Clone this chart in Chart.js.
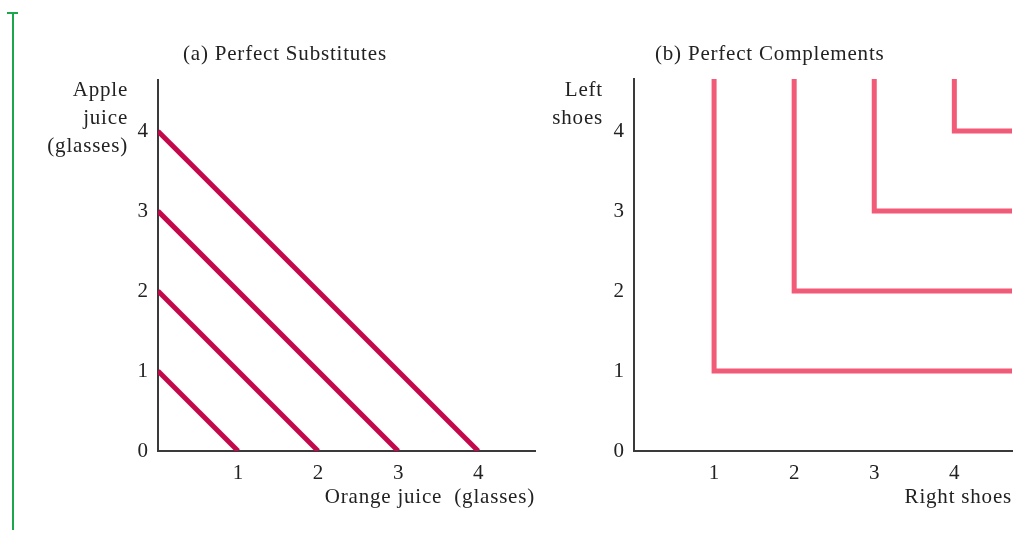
<!DOCTYPE html>
<html>
<head>
<meta charset="utf-8">
<script src="https://cdn.jsdelivr.net/npm/chart.js@4"></script>
<style>
    body { margin: 0; background: #fff; }
    #wrap { position: relative; width: 1028px; height: 534px; overflow: hidden; }
    .panel { position: absolute; top: 0; }
    #bar { position: absolute; left: 12px; top: 13px; width: 2px; height: 517px; background: #1aa84a; }
    #cap { position: absolute; left: 7px; top: 12px; width: 11px; height: 2px; background: #1aa84a; }
</style>
</head>
<body>
<div id="wrap">
    <div id="bar"></div><div id="cap"></div>
    <div class="panel" style="left:0px"><canvas id="chart-subst" width="545" height="534"></canvas></div>
    <div class="panel" style="left:520px"><canvas id="chart-compl" width="508" height="534"></canvas></div>
</div>
<script>
// tick labels
const xTicks = [1, 2, 3, 4];
const yTicks = [0, 1, 2, 3, 4];

// (a) indifference lines: intercept on both axes
const substLevels = [1, 2, 3, 4];
const substMax = { x: 4.71, y: 4.64 };

// (b) kink points of the L-shaped curves
const complKinks = [1, 2, 3, 4];
const complMax = { x: 4.72, y: 4.65 };

const serif = "'Liberation Serif', 'DejaVu Serif', serif";
const fontSize = 21;
const inkColor = "#222";
const axisColor = "#3a3a3a";

// draws the panel title and the horizontal axis captions
const labelPlugin = {
    id: "axisLabels",
    afterDraw(chart, args, opts) {
        const ctx = chart.ctx;
        const area = chart.chartArea;
        ctx.save();
        ctx.font = fontSize + "px " + serif;
        ctx.letterSpacing = "0.8px";
        ctx.fillStyle = inkColor;
        ctx.textBaseline = "middle";

        ctx.textAlign = "left";
        ctx.fillText(opts.title, area.left + opts.titleOffset, 54);

        ctx.textAlign = "right";
        opts.yLabel.forEach(function (line, i) {
            ctx.fillText(line, opts.yLabelRight, 90 + i * 28);
        });
        ctx.fillText(opts.xLabel, area.right, 497);
        ctx.restore();
    }
};

function fixedTicks(values) {
    return function (scale) {
        scale.ticks = values.map(v => ({ value: v }));
    };
}

function buildOptions(max, yWidth, padRight, padTop, labels) {
    return {
        responsive: false,
        animation: false,
        devicePixelRatio: 1,
        layout: { padding: { left: 0, right: padRight, top: padTop, bottom: 0 } },
        plugins: {
            legend: { display: false },
            tooltip: { enabled: false },
            axisLabels: labels
        },
        scales: {
            x: {
                type: "linear",
                min: 0,
                max: max.x,
                afterBuildTicks: fixedTicks(xTicks),
                afterFit: function (scale) { scale.height = 83; },
                grid: { display: false, drawTicks: false },
                border: { display: true, color: axisColor, width: 2 },
                ticks: {
                    padding: 10,
                    color: inkColor,
                    font: { family: serif, size: fontSize },
                    maxRotation: 0
                }
            },
            y: {
                type: "linear",
                min: 0,
                max: max.y,
                afterBuildTicks: fixedTicks(yTicks),
                afterFit: function (scale) { scale.width = yWidth; },
                grid: { display: false, drawTicks: false },
                border: { display: true, color: axisColor, width: 2 },
                ticks: {
                    padding: 10,
                    color: inkColor,
                    font: { family: serif, size: fontSize }
                }
            }
        }
    };
}

const substDatasets = substLevels.map(function (k) {
    return {
        data: [{ x: 0, y: k }, { x: k, y: 0 }],
        borderColor: "#c3084b",
        borderWidth: 5,
        pointRadius: 0,
        clip: 0
    };
});

const complDatasets = complKinks.map(function (k) {
    return {
        data: [{ x: k, y: complMax.y }, { x: k, y: k }, { x: complMax.x, y: k }],
        borderColor: "#f25b78",
        borderWidth: 5,
        borderJoinStyle: "miter",
        pointRadius: 0,
        clip: 0
    };
});

new Chart(document.getElementById("chart-subst"), {
    type: "line",
    data: { datasets: substDatasets },
    options: buildOptions(substMax, 158, 10, 80, {
        title: "(a) Perfect Substitutes",
        titleOffset: 25,
        yLabel: ["Apple", "juice", "(glasses)"],
        yLabelRight: 128,
        xLabel: "Orange juice  (glasses)"
    }),
    plugins: [labelPlugin]
});

new Chart(document.getElementById("chart-compl"), {
    type: "line",
    data: { datasets: complDatasets },
    options: buildOptions(complMax, 114, 16, 79, {
        title: "(b) Perfect Complements",
        titleOffset: 21,
        yLabel: ["Left", "shoes"],
        yLabelRight: 83,
        xLabel: "Right shoes"
    }),
    plugins: [labelPlugin]
});
</script>
</body>
</html>
